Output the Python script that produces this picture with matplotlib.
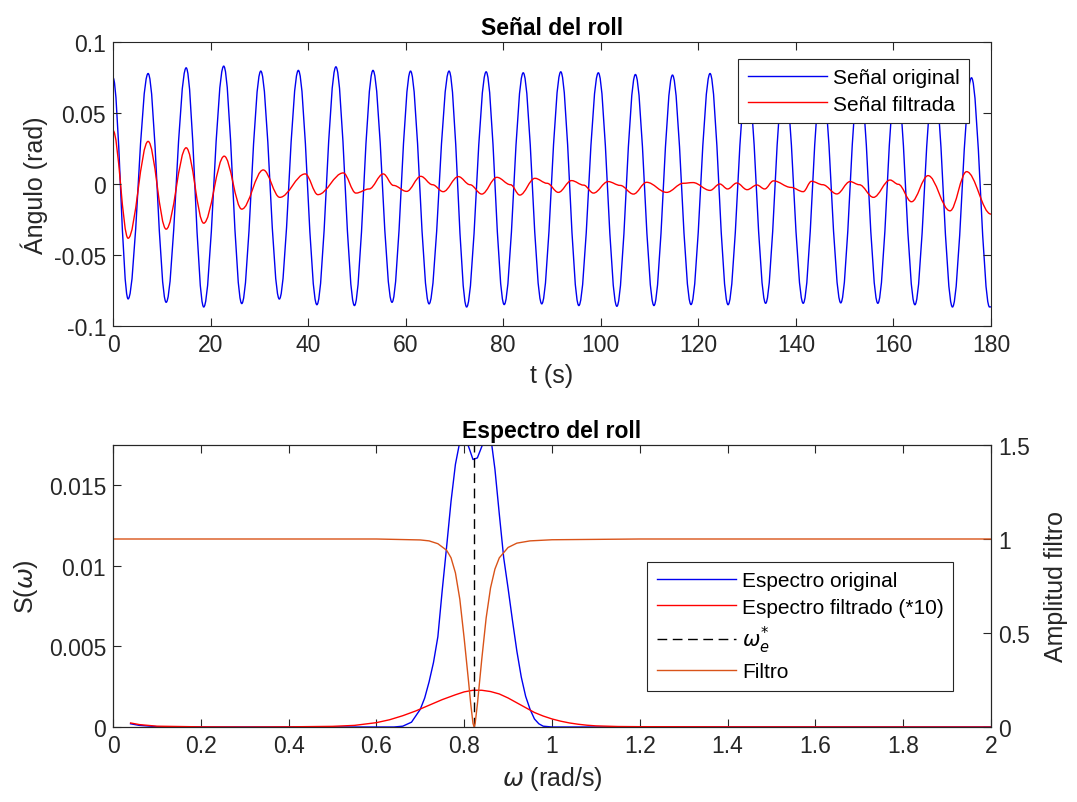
import numpy as np
import matplotlib
matplotlib.use("Agg")
import matplotlib.pyplot as plt
from matplotlib.path import Path
from matplotlib.patches import PathPatch
from matplotlib.lines import Line2D
from matplotlib.ticker import FuncFormatter

# ---- data ----
# roll signal: local extrema (time s, angle rad)
orig_t = [0.0, 3.1, 7.2, 10.9, 15.0, 18.6, 22.7, 26.4, 30.3, 34.1, 38.0, 41.8,
          45.7, 49.5, 53.3, 57.2, 61.0, 64.8, 68.9, 72.5, 76.5, 80.2, 84.1, 87.9,
          91.8, 95.5, 99.5, 103.3, 107.1, 110.9, 114.7, 118.5, 122.4, 126.1, 130.0,
          133.8, 137.6, 141.5, 145.3, 149.2, 153.0, 156.8, 160.6, 164.4, 168.3,
          172.1, 176.0, 179.7, 180.0]
orig_v = [0.0749, -0.0809, 0.0778, -0.0833, 0.0818, -0.0866, 0.0830, -0.0842,
          0.0795, -0.0810, 0.0800, -0.0850, 0.0825, -0.0856, 0.0800, -0.0833,
          0.0795, -0.0844, 0.0795, -0.0866, 0.0790, -0.0849, 0.0783, -0.0844,
          0.0790, -0.0856, 0.0783, -0.0861, 0.0771, -0.0856, 0.0767, -0.0849,
          0.0778, -0.0850, 0.0780, -0.0840, 0.0780, -0.0840, 0.0780, -0.0837,
          0.0780, -0.0840, 0.0780, -0.0850, 0.0770, -0.0866, 0.0748, -0.0866,
          -0.0865]

filt_t = [0.0, 3.1, 7.2, 10.9, 15.0, 18.6, 22.8, 26.4, 30.8, 34.2, 39.4, 42.0,
          47.2, 49.8, 52.5, 55.4, 57.5, 60.2, 63.1, 65.5, 67.7, 70.8, 73.2, 75.6,
          78.7, 81.5, 83.4, 86.5, 89.0, 91.3, 94.0, 96.5, 98.5, 101.5, 104.0,
          106.7, 109.4, 113.5, 116.9, 118.9, 122.4, 124.4, 126.0, 127.9, 130.0,
          132.0, 133.6, 135.4, 139.0, 141.5, 143.2, 145.5, 148.4, 151.1, 153.0,
          155.9, 159.3, 161.0, 163.7, 167.1, 171.6, 175.0, 180.0]
filt_v = [0.0377, -0.0382, 0.0300, -0.0318, 0.0255, -0.0276, 0.0196, -0.0177,
          0.0099, -0.0094, 0.0071, -0.0075, 0.0078, -0.0064, -0.0035, 0.0071,
          -0.0010, -0.0052, 0.0054, -0.0005, -0.0054, 0.0052, -0.0005, -0.0071,
          0.0047, -0.0005, -0.0078, 0.0040, 0.0005, -0.0059, 0.0024, -0.0008,
          -0.0064, 0.0017, -0.0010, -0.0071, 0.0012, -0.0059, 0.0005, 0.0010,
          -0.0045, 0.0000, -0.0035, 0.0007, -0.0040, -0.0007, -0.0035, 0.0022,
          -0.0024, -0.0054, 0.0019, -0.0005, -0.0070, 0.0017, -0.0005, -0.0094,
          0.0028, -0.0002, -0.0125, 0.0059, -0.0189, 0.0087, -0.0212]

# spectra (rad/s)
spec_w = [0.04, 0.06, 0.10, 0.20, 0.40, 0.60, 0.64, 0.66, 0.68, 0.70, 0.71, 0.72,
          0.73, 0.74, 0.75, 0.76, 0.77, 0.78, 0.79, 0.80, 0.81, 0.82, 0.83, 0.84,
          0.85, 0.86, 0.87, 0.88, 0.89, 0.90, 0.91, 0.92, 0.93, 0.94, 0.95, 0.96,
          0.97, 0.98, 1.00, 1.20, 2.00]
spec_orig = [0.00020, 0.00010, 0.00002, 0.0, 0.0, 0.0, 0.0, 0.00005, 0.0003,
             0.0011, 0.0018, 0.0028, 0.0040, 0.0056, 0.0085, 0.0112, 0.0140,
             0.0163, 0.0177, 0.0180, 0.0174, 0.0166, 0.0167, 0.0174, 0.0180,
             0.0181, 0.0160, 0.0132, 0.0105, 0.0086, 0.0066, 0.0047, 0.0031,
             0.0019, 0.0011, 0.0005, 0.0002, 0.00005, 0.0, 0.0, 0.0]

filt_w = [0.04, 0.06, 0.10, 0.20, 0.30, 0.40, 0.50, 0.55, 0.60, 0.63, 0.66, 0.69,
          0.72, 0.75, 0.78, 0.80, 0.82, 0.84, 0.86, 0.88, 0.90, 0.92, 0.94, 0.96,
          0.98, 1.00, 1.02, 1.04, 1.06, 1.08, 1.10, 1.15, 1.20, 1.40, 2.00]
spec_filt = [0.00025, 0.00015, 0.00005, 0.00001, 0.0, 0.00001, 0.00004, 0.0001,
             0.00027, 0.00045, 0.0007, 0.0010, 0.00135, 0.0017, 0.0020, 0.00218,
             0.00228, 0.00228, 0.0022, 0.00205, 0.0018, 0.0015, 0.0012, 0.0009,
             0.00068, 0.0005, 0.00036, 0.00025, 0.00017, 0.00011, 0.00007,
             0.00003, 0.00002, 0.00001, 0.0]

notch_w = [0.0, 0.60, 0.70, 0.72, 0.74, 0.76, 0.77, 0.78, 0.79, 0.80, 0.81,
           0.815, 0.82, 0.8226, 0.825, 0.83, 0.84, 0.85, 0.86, 0.87, 0.88, 0.90,
           0.92, 0.95, 1.00, 1.20, 2.00]
notch_amp = [1.0, 1.0, 0.995, 0.99, 0.975, 0.94, 0.90, 0.82, 0.68, 0.47, 0.24,
             0.12, 0.02, 0.0, 0.02, 0.12, 0.36, 0.58, 0.74, 0.84, 0.90, 0.955,
             0.978, 0.99, 0.996, 1.0, 1.0]

w_e = 0.8226

plt.rcParams['font.family'] = ['Liberation Sans', 'DejaVu Sans']
plt.rcParams['font.size'] = 16
plt.rcParams['axes.unicode_minus'] = False
plt.rcParams['mathtext.fontset'] = 'dejavusans'

ink = '#262626'
c_blue = '#0000f0'
c_red = '#ff0000'
c_orange = '#d95319'


def smooth_path(xs, ys, k=0.36):
    # cubic segments with flat tangents at every node (extrema)
    verts = [(xs[0], ys[0])]
    codes = [Path.MOVETO]
    for i in range(len(xs) - 1):
        dx = xs[i + 1] - xs[i]
        verts += [(xs[i] + k * dx, ys[i]), (xs[i + 1] - k * dx, ys[i + 1]),
                  (xs[i + 1], ys[i + 1])]
        codes += [Path.CURVE4] * 3
    return Path(verts, codes)


def style_axes(ax):
    for s in ax.spines.values():
        s.set_color(ink)
        s.set_linewidth(0.8)
    ax.tick_params(direction='in', length=6, width=0.8, colors=ink,
                   labelcolor=ink, labelsize=16.5, top=True, pad=5)


fig = plt.figure(figsize=(10.77, 8.03), dpi=100)
ax1 = fig.add_axes([113 / 1077, 1 - 327 / 803, 878 / 1077, 284 / 803])
ax2 = fig.add_axes([113 / 1077, 1 - 728 / 803, 878 / 1077, 282 / 803])

# --- top: roll signal ---
ax1.add_patch(PathPatch(smooth_path(orig_t, orig_v), fill=False,
                        edgecolor=c_blue, lw=1.0))
ax1.add_patch(PathPatch(smooth_path(filt_t, filt_v), fill=False,
                        edgecolor=c_red, lw=1.0))
ax1.set_xlim(0, 180)
ax1.set_ylim(-0.1, 0.1)
ax1.set_xticks(np.arange(0, 181, 20))
ax1.set_yticks([-0.1, -0.05, 0, 0.05, 0.1])
ax1.yaxis.set_major_formatter(FuncFormatter(lambda v, p: '%g' % round(v, 4)))
style_axes(ax1)
ax1.tick_params(right=True)
ax1.set_xlabel('t (s)', fontsize=18, color=ink, labelpad=5)
ax1.set_ylabel('Ángulo (rad)', fontsize=18, color=ink, labelpad=4)
ax1.set_title('Señal del roll', fontsize=16.5, fontweight='bold', pad=6)
h1 = [Line2D([], [], color=c_blue, lw=1.0), Line2D([], [], color=c_red, lw=1.0)]
leg1 = ax1.legend(h1, ['Señal original', 'Señal filtrada'], loc='upper right',
                  bbox_to_anchor=(0.975, 0.94), fancybox=False, framealpha=1,
                  edgecolor=ink, fontsize=15, handlelength=3.8, labelspacing=0.35,
                  borderaxespad=0, borderpad=0.45, handletextpad=0.3)
leg1.get_frame().set_linewidth(0.8)

# --- bottom: spectra and notch filter ---
ax2.plot(spec_w, spec_orig, color=c_blue, lw=1.0, label='Espectro original')
ax2.plot(filt_w, spec_filt, color=c_red, lw=1.0, label='Espectro filtrado (*10)')
ax2.axvline(w_e, color='k', lw=1.0, dashes=(7, 4), label=r'$\omega^{*}_{e}$')
ax2.set_xlim(0, 2)
ax2.set_ylim(0, 0.0175)
ax2.set_xticks(np.arange(0, 2.01, 0.2))
ax2.set_yticks([0, 0.005, 0.01, 0.015])
ax2.xaxis.set_major_formatter(FuncFormatter(lambda v, p: '%g' % round(v, 2)))
ax2.yaxis.set_major_formatter(FuncFormatter(lambda v, p: '%g' % round(v, 4)))
style_axes(ax2)
ax2.set_xlabel(r'$\omega$ (rad/s)', fontsize=18, color=ink, labelpad=5)
ax2.set_ylabel(r'S($\omega$)', fontsize=18, color=ink, labelpad=6)
ax2.set_title('Espectro del roll', fontsize=16.5, fontweight='bold', pad=6)

ax2r = ax2.twinx()
ax2r.plot(notch_w, notch_amp, color=c_orange, lw=1.0, label='Filtro')
ax2r.set_ylim(0, 1.5)
ax2r.set_yticks([0, 0.5, 1, 1.5])
ax2r.yaxis.set_major_formatter(FuncFormatter(lambda v, p: '%g' % v))
style_axes(ax2r)
ax2r.tick_params(top=False)
ax2r.set_ylabel('Amplitud filtro', fontsize=18, color=ink, labelpad=10)

hs = ax2.get_legend_handles_labels()
hr = ax2r.get_legend_handles_labels()
leg2 = ax2r.legend(hs[0] + hr[0], hs[1] + hr[1], loc='upper right',
                   bbox_to_anchor=(0.957, 0.585), fancybox=False, framealpha=1,
                   edgecolor=ink, fontsize=15, handlelength=3.8, labelspacing=0.35,
                   borderaxespad=0, borderpad=0.45, handletextpad=0.3)
leg2.get_frame().set_linewidth(0.8)

fig.savefig('out.png', dpi=100, facecolor='white')
